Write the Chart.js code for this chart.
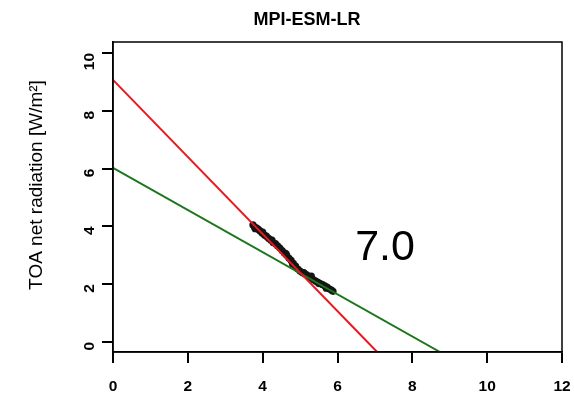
<!DOCTYPE html>
<html>
<head>
<meta charset="utf-8">
<script src="https://cdn.jsdelivr.net/npm/chart.js@4"></script>
<style>
  html, body { margin: 0; padding: 0; background: #fff; }
  #wrap { width: 574px; height: 395px; }
</style>
</head>
<body>
<div id="wrap"><canvas id="chart" width="574" height="395"></canvas></div>
<script>
// data ======================================================================
const chartTitle = "MPI-ESM-LR";
const yTitle = "TOA net radiation [W/m²]";
const ecsLabel = "7.0";
const ecsPos = [7.27, 3.25];

const xTicks = [0, 2, 4, 6, 8, 10, 12];
const yTicks = [0, 2, 4, 6, 8, 10];

// annual means (black dots)
const pointsX = [3.74, 3.78, 3.83, 3.88, 3.93, 3.99, 4.05, 4.10, 4.16, 4.22, 4.28, 4.34, 4.40, 4.46,
  4.52, 4.58, 4.64, 4.70, 4.76, 4.82, 4.88, 4.94, 5.00, 5.06, 5.12, 5.18, 5.24, 5.30, 5.36, 5.42,
  5.48, 5.54, 5.60, 5.66, 5.72, 5.78, 5.84, 5.88, 4.25, 4.62, 5.10, 5.50, 3.80, 4.00, 4.80, 5.30, 5.70];
const pointsY = [4.05, 3.98, 3.95, 3.90, 3.84, 3.76, 3.70, 3.66, 3.58, 3.52, 3.44, 3.40, 3.32, 3.25,
  3.16, 3.08, 3.00, 2.90, 2.82, 2.72, 2.62, 2.52, 2.45, 2.40, 2.36, 2.32, 2.26, 2.21, 2.15, 2.10,
  2.06, 2.02, 1.98, 1.94, 1.90, 1.84, 1.79, 1.75, 3.52, 3.06, 2.40, 2.02, 3.92, 3.80, 2.70, 2.28, 1.86];

// regression lines (start at x=0, end at bottom of plot)
const redX = [0, 7.06];
const redY = [9.07, -0.35];
const greenX = [0, 8.74];
const greenY = [6.02, -0.35];

const xMin = 0, xMax = 12;
const yMin = -0.35, yMax = 10.38;

const toXY = (xs, ys) => xs.map((x, i) => ({ x: x, y: ys[i] }));

// extra text + box ===========================================================
const extras = {
  id: "extras",
  afterDraw(chart) {
    const { ctx, chartArea } = chart;
    const xs = chart.scales.x, ys = chart.scales.y;
    ctx.save();
    // box
    ctx.strokeStyle = "#000";
    ctx.lineWidth = 1.5;
    ctx.strokeRect(chartArea.left, chartArea.top, chartArea.right - chartArea.left, chartArea.bottom - chartArea.top);
    // title
    ctx.fillStyle = "#000";
    ctx.textAlign = "center";
    ctx.textBaseline = "middle";
    ctx.font = "bold 18px 'Liberation Sans', Arial, sans-serif";
    ctx.fillText(chartTitle, 307, 20);
    // y title
    ctx.save();
    ctx.translate(37, 185);
    ctx.rotate(-Math.PI / 2);
    ctx.font = "19px 'Liberation Sans', Arial, sans-serif";
    ctx.fillText(yTitle, 0, 0);
    ctx.restore();
    // ECS label
    ctx.font = "43px 'Liberation Sans', Arial, sans-serif";
    ctx.fillText(ecsLabel, xs.getPixelForValue(ecsPos[0]), ys.getPixelForValue(ecsPos[1]));
    ctx.restore();
  },
};

const tickFont = { family: "'Liberation Sans', Arial, sans-serif", size: 15.5, weight: "bold" };

new Chart(document.getElementById("chart"), {
  type: "scatter",
  data: {
    datasets: [
      {
        type: "line",
        data: toXY(redX, redY),
        borderColor: "rgb(232, 24, 30)",
        borderWidth: 2,
        pointRadius: 0,
        fill: false,
      },
      {
        type: "line",
        data: toXY(greenX, greenY),
        borderColor: "rgb(28, 118, 28)",
        borderWidth: 2,
        pointRadius: 0,
        fill: false,
      },
      {
        data: toXY(pointsX, pointsY),
        backgroundColor: "rgb(20, 20, 20)",
        borderColor: "rgb(20, 20, 20)",
        pointRadius: 3.6,
        borderWidth: 0,
      },
    ],
  },
  options: {
    responsive: false,
    animation: false,
    layout: { padding: { left: 0, top: 42, right: 12, bottom: 0 } },
    plugins: { legend: { display: false }, tooltip: { enabled: false } },
    scales: {
      x: {
        type: "linear",
        min: xMin,
        max: xMax,
        afterBuildTicks: (scale) => { scale.ticks = xTicks.map((v) => ({ value: v })); },
        afterFit: (scale) => {
          scale.height = 43;
          scale.paddingLeft = 0;
          scale.paddingRight = 0;
        },
        grid: { drawOnChartArea: false, color: "#000", lineWidth: 2, tickLength: 11 },
        border: { color: "#000", width: 1.5 },
        ticks: { color: "#000", font: tickFont, padding: 14, maxRotation: 0 },
      },
      y: {
        type: "linear",
        min: yMin,
        max: yMax,
        afterBuildTicks: (scale) => { scale.ticks = yTicks.map((v) => ({ value: v })); },
        afterFit: (scale) => {
          scale.width = 113;
          scale.paddingTop = 0;
          scale.paddingBottom = 0;
        },
        grid: { drawOnChartArea: false, color: "#000", lineWidth: 2, tickLength: 11 },
        border: { color: "#000", width: 1.5 },
        ticks: { color: "#000", font: tickFont, padding: 12, minRotation: 90, maxRotation: 90 },
      },
    },
  },
  plugins: [extras],
});
</script>
</body>
</html>
